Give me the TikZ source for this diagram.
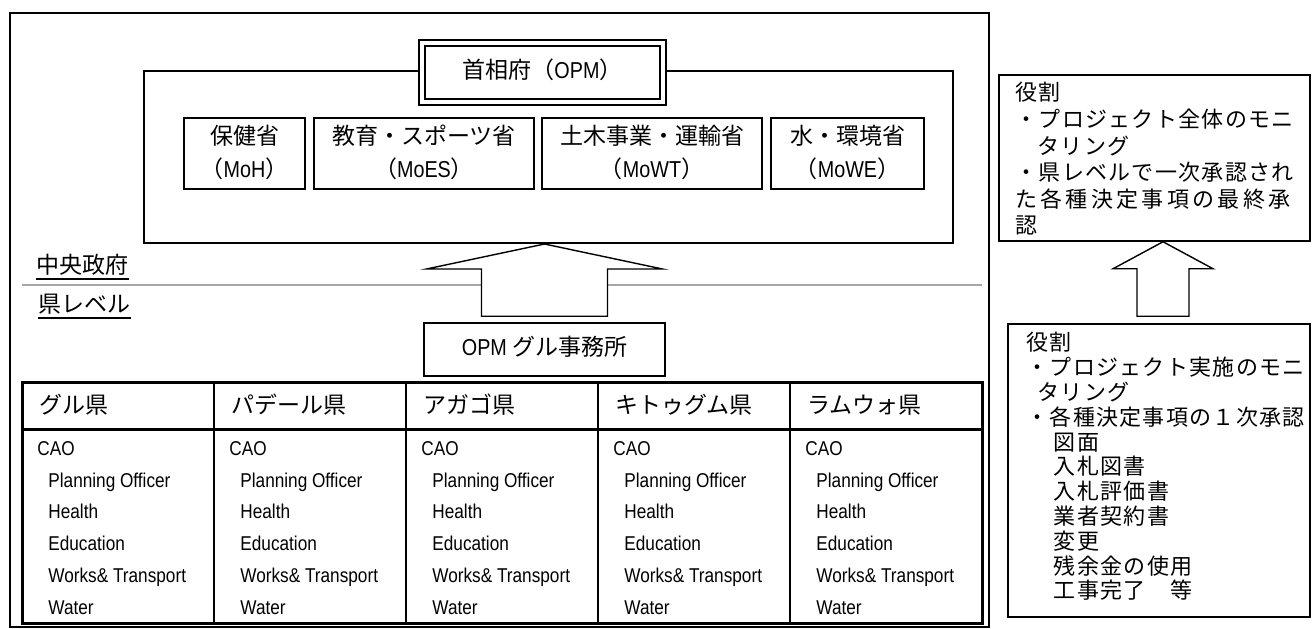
\documentclass[tikz,border=0pt]{standalone}
\usepackage{fontspec}
\setmainfont{Liberation Sans}[FakeStretch=0.86]
\newfontfamily\jp{Noto Sans CJK JP}
\newfontfamily\jpwide{Noto Sans CJK JP}[LetterSpace=15]
\newfontfamily\jpmid{Noto Sans CJK JP}[LetterSpace=6]
\usetikzlibrary{calc,fit}

\begin{document}
\begin{tikzpicture}[x=0.5pt, y=-0.5pt,
  box/.style = {draw, line width=1pt, inner sep=0pt},
  thinbox/.style = {draw, line width=0.75pt, inner sep=0pt},
  blk/.style = {draw, line width=0.7pt, fill=white, line join=miter},
  jtxt/.style = {inner sep=0pt, anchor=west, text height=1.5ex, text depth=.3ex, font=\jp\fontsize{11.5}{13}\selectfont},
  etxt/.style = {inner sep=0pt, anchor=west, text height=1.6ex, text depth=.4ex, font=\rmfamily\fontsize{10}{12}\selectfont}]
        \useasboundingbox (0,0) rectangle (1315,628);

        \node [thinbox, fit={(10,13) (989,627)}] (frame) {};

        % central government
        \node [box, fit={(144,71) (953,243)}] (cgov) {};
        \node [box, line width=0.8pt, double, double distance=2pt, fill=white, fit={(422,43) (663,102)}] (opm) {};
        \node [jtxt, anchor=center] (opmt) at (opm.center) {首相府（{\rmfamily OPM}）};

        \foreach \n/\a/\b/\j/\e in {moh/184/305/保健省/MoH, moes/314/534/教育・スポーツ省/MoES, mowt/542/762/土木事業・運輸省/MoWT, mowe/771/924/水・環境省/MoWE}
                 {
                   \node [box, fit={(\a,118) (\b,189)}] (\n) {};
                   \node [jtxt, anchor=center] (\n-1) at ($(\n.center)+(0,-15)$) {\j};
                   \node [jtxt, anchor=center] (\n-2) at ($(\n.center)+(0,18)$) {（{\rmfamily\e}）};
                 }

        \node [jtxt] (cg) at (36,267) {中央政府};
        \node [jtxt] (pl) at (38,306) {県レベル};
        \foreach \n in {cg, pl}
                 {
                   \draw [line width=0.75pt] ($(\n.south west)+(0,2)$) -- ($(\n.south east)+(0,2)$);
                 }
        \draw [gray!70, line width=0.6pt] (22,285) -- (982,285);

        % districts
        \node [thinbox, fit={(424,323) (665,376)}] (gulu) {};
        \node [jtxt, anchor=center] (gulut) at (gulu.center) {{\rmfamily OPM} グル事務所};

        \node [draw, line width=1.5pt, inner sep=0pt, fit={(22,382) (982,623)}] (tab) {};
        \draw [line width=1.5pt] (tab.west |- 0,429) -- (tab.east |- 0,429);
        \foreach \i in {1,...,4}
                 {
                   \draw [line width=1.2pt] (22+192*\i,382) -- (22+192*\i,623);
                 }
        \foreach \n [count=\i from 0] in {グル県, パデール県, アガゴ県, キトゥグム県, ラムウォ県}
                 {
                   \node [jtxt] (h\i) at (39+192*\i,407) {\n};
                   \node [etxt] (cao\i) at (37+192*\i,449) {CAO};
                   \foreach \m [count=\j] in {Planning Officer, Health, Education, Works\& Transport, Water}
                            {
                              \node [etxt] (s\i-\j) at (48+192*\i,449+31.8*\j) {\m};
                            }
                 }

        % roles
        \node [thinbox, fit={(999,75) (1310,241)}] (role1) {};
        \node [thinbox, fit={(1008,324) (1310,617)}] (role2) {};
        \node [inner sep=0pt, anchor=north west, align=left, font=\jpmid\fontsize{11}{13.3}\selectfont] (role1t) at (1015,82)
              {役割\\・プロジェクト全体のモニ\\\hspace*{1em}タリング\\・県レベルで一次承認され\\{\jpwide た各種決定事項の最終承}\\認};
        \node [inner sep=0pt, anchor=north west, align=left, font=\jpmid\fontsize{11}{12.4}\selectfont] (role2t) at (1026,332)
              {役割\\・プロジェクト実施のモニ\\\hspace*{.5em}タリング\\・各種決定事項の１次承認\\\hspace*{1.25em}図面\\\hspace*{1.25em}入札図書\\\hspace*{1.25em}入札評価書\\\hspace*{1.25em}業者契約書\\\hspace*{1.25em}変更\\\hspace*{1.25em}残余金の使用\\\hspace*{1.25em}工事完了　等};

        \coordinate (t1) at ($(gulu.north)+(0,-6)$);
        \coordinate (t2) at ($(role2.north)+(4,-7)$);
        \foreach \t/\h/\s/\w/\l in {t1/cgov/63/118/25, t2/role1/26/50/27}
                 {
                   \draw [blk] ($(\t)+(-\s,0)$) -- ($(\t |- \h.south)+(-\s,\l)$) -- ($(\t |- \h.south)+(-\w,\l)$) -- (\t |- \h.south)
                          -- ($(\t |- \h.south)+(\w,\l)$) -- ($(\t |- \h.south)+(\s,\l)$) -- ($(\t)+(\s,0)$) -- cycle;
                 }
      \end{tikzpicture}
\end{document}
